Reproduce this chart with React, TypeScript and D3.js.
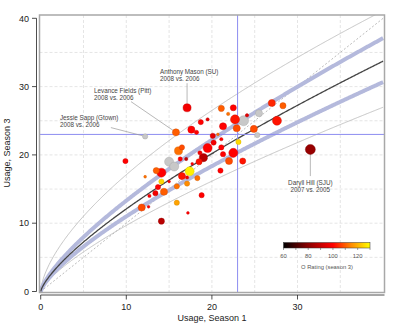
import React from "react";
import * as d3 from "d3";

// ---- data ----
const usageS1 = [17.1,15.8,12.2,31.5,18.7,19.5,17.6,18.2,16.1,16.5,19.5,19.0,18.6,18.5,17.0,15.0,15.6,9.9,14.1,13.5,17.4,16.5,14.1,15.0,18.3,17.1,15.9,17.1,13.7,14.4,13.4,12.7,15.9,11.8,12.6,14.1,17.2,18.8,12.2,16.3,17.7,21.1,22.5,21.9,27.0,28.3,25.5,24.1,22.7,23.7,27.6,21.3,22.9,24.9,20.1,20.7,25.3,20.2,21.1,23.1,21.1,21.3,22.5,22.0,23.6,21.0];
const usageS3 = [26.9,23.3,22.7,20.8,24.8,25.2,23.7,23.3,20.6,21.1,21.0,19.6,20.3,19.0,19.4,19.0,18.3,19.1,17.4,17.7,17.6,16.9,16.1,16.1,16.6,16.7,15.4,15.8,15.3,14.6,14.4,14.0,13.0,12.3,12.4,10.3,11.5,14.1,16.8,19.4,18.7,26.8,26.9,26.0,27.6,27.2,26.1,25.8,25.2,25.0,25.0,24.2,23.9,23.8,22.8,23.0,22.9,21.8,22.3,21.9,21.1,20.1,20.3,19.1,19.1,17.7];
const oRating: (number | null)[] = [98,110,null,82,100,95,100,100,112,108,100,88,98,102,90,null,null,100,100,110,128,102,125,100,112,98,112,115,100,110,98,100,118,108,100,88,100,100,112,100,100,110,100,112,104,110,null,95,102,null,102,100,108,108,96,112,null,98,100,125,100,100,100,108,102,100];
const pointSize = [4,3.5,2.5,5,2.5,1.5,3.5,2,4,2.5,4.5,4,2,3,1.5,4.5,4.5,2.5,4.5,3,4.5,3.5,2.5,1.2,2.5,1.5,2.5,2.5,2.5,3.5,2.5,1.5,2.5,3.5,1.2,3,1.2,2.5,1.2,2,1.2,3,3,1.5,3.5,3,3.5,1.5,4.5,5,4.5,3.5,3.5,3.5,2.5,1.2,2.5,2.5,1.5,2.5,2.5,2.5,4.5,3.5,3,2.5];

// fitted curves y = a * x^b  (outer upper, band upper, center, band lower, outer lower)
const curveA = [3.98, 2.42, 2.2, 2.0, 1.76];
const curveB = [0.633, 0.74, 0.74, 0.74, 0.74];

const xTicks = [0, 10, 20, 30];
const yTicks = [0, 10, 20, 30, 40];
const gridVals = [5, 10, 15, 20, 25, 30, 35];
const refX = 23;
const refY = 23;

const annotations = [
  { name: "Anthony Mason (SU)", years: "2008 vs. 2006", idx: 0, tx: 13.94, ty: 31.8, anchor: "start", lx: 17.1, ly: 30.5 },
  { name: "Levance Fields (Pitt)", years: "2008 vs. 2006", idx: 1, tx: 6.23, ty: 29.05, anchor: "start", lx: 10.55, ly: 27.8 },
  { name: "Jessie Sapp (Gtown)", years: "2008 vs. 2006", idx: 2, tx: 2.25, ty: 25.1, anchor: "start", lx: 8.2, ly: 24.0 },
  { name: "Daryll Hill (SJU)", years: "2007 vs. 2005", idx: 3, tx: 31.5, ty: 15.55, anchor: "middle", lx: 31.5, ly: 16.9 },
];

const legendTicks = [60, 80, 100, 120];
const legendDomain = [60, 130];

export default function App() {
  const W = 400, H = 326;
  const x = d3.scaleLinear().domain([0, 40]).range([40.7, 383.1]);
  const y = d3.scaleLinear().domain([0, 40]).range([291.5, 18.3]);
  const box = { l: 39.5, r: 384.5, t: 15, b: 292.5 };

  const color = d3.scaleLinear<string>()
    .domain([60, 80, 100, 115, 130])
    .range(["#000000", "#8b0000", "#ff0000", "#ff8c00", "#ffff00"])
    .interpolate(d3.interpolateRgb);
  const rScale = d3.scaleLinear().domain([1, 5]).range([1.2, 5]);

  const xs = d3.range(0, 40.01, 0.1);
  const lineGen = d3.line<number[]>().x(d => x(d[0])).y(d => y(d[1]));
  const curvePath = (i: number) => lineGen(xs.map(v => [v, curveA[i] * Math.pow(v, curveB[i])]))!;

  const pts = usageS1.map((u, i) => ({ u1: u, u3: usageS3[i], o: oRating[i], s: pointSize[i] }));
  const order = d3.range(pts.length).sort((a, b) => pts[b].s - pts[a].s);

  const lx = d3.scaleLinear().domain(legendDomain).range([283.5, 370]);
  const gradStops = d3.range(60, 131, 5);

  const font = "Liberation Sans, Arial, sans-serif";

  return (
    <svg width={W} height={H} style={{ position: "absolute", left: 0, top: 0, background: "#fff" }} fontFamily={font}>
      <defs>
        <clipPath id="plotclip">
          <rect x={box.l} y={box.t} width={box.r - box.l} height={box.b - box.t} />
        </clipPath>
        <linearGradient id="heat" x1="0" x2="1" y1="0" y2="0">
          {gradStops.map(v => (
            <stop key={v} offset={(v - 60) / 70} stopColor={color(v)} />
          ))}
        </linearGradient>
      </defs>

      {/* grid */}
      <g stroke="#dedede" strokeWidth={0.8} strokeDasharray="3,2">
        {gridVals.map(v => (
          <line key={"gx" + v} x1={x(v)} x2={x(v)} y1={box.t} y2={box.b} />
        ))}
        {gridVals.map(v => (
          <line key={"gy" + v} x1={box.l} x2={box.r} y1={y(v)} y2={y(v)} />
        ))}
      </g>

      <g clipPath="url(#plotclip)" fill="none">
        {/* y = x reference */}
        <line x1={x(0)} y1={y(0)} x2={x(40)} y2={y(40)} stroke="#aaaaaa" strokeWidth={0.8} strokeDasharray="2,2" />
        <path d={curvePath(0)} stroke="#b8b8b8" strokeWidth={0.8} />
        <path d={curvePath(4)} stroke="#b8b8b8" strokeWidth={0.8} />
        <path d={curvePath(1)} stroke="#b4b9dc" strokeWidth={4} />
        <path d={curvePath(3)} stroke="#b4b9dc" strokeWidth={4} />
        <path d={curvePath(2)} stroke="#444444" strokeWidth={1.3} />
        {/* reference cross */}
        <line x1={box.l} x2={box.r} y1={y(refY)} y2={y(refY)} stroke="#8c8cf0" strokeWidth={1} />
        <line x1={x(refX)} x2={x(refX)} y1={box.t} y2={box.b} stroke="#8c8cf0" strokeWidth={1} />
      </g>

      {/* annotation leaders */}
      <g stroke="#9a9a9a" strokeWidth={0.7}>
        {annotations.map((a, i) => {
          const p = pts[a.idx];
          return <line key={i} x1={x(a.lx)} y1={y(a.ly)} x2={x(p.u1)} y2={y(p.u3)} />;
        })}
      </g>

      {/* points */}
      <g clipPath="url(#plotclip)">
        {order.map(i => {
          const p = pts[i];
          const c = p.o == null ? "#c8c8c8" : color(p.o);
          return (
            <circle key={i} cx={x(p.u1)} cy={y(p.u3)} r={rScale(p.s)} fill={c}
              stroke={d3.color(c)!.darker(0.6).formatHex()} strokeWidth={0.4} />
          );
        })}
      </g>

      {/* annotation labels */}
      <g fontSize={6.3} fill="#444">
        {annotations.map((a, i) => (
          <text key={i} x={x(a.tx)} y={y(a.ty)} textAnchor={a.anchor}>
            <tspan x={x(a.tx)} dy={0}>{a.name}</tspan>
            <tspan x={x(a.tx)} dy={7}>{a.years}</tspan>
          </text>
        ))}
      </g>

      {/* box */}
      <rect x={box.l} y={box.t} width={box.r - box.l} height={box.b - box.t} fill="none" stroke="#a8a8a8" strokeWidth={1.5} />

      {/* axes */}
      <g stroke="#222" strokeWidth={0.8}>
        <line x1={36.5} x2={36.5} y1={y(0)} y2={y(40)} />
        {yTicks.map(v => <line key={v} x1={32} x2={36.5} y1={y(v)} y2={y(v)} />)}
        <line x1={x(0)} x2={box.r} y1={295} y2={295} />
        {xTicks.map(v => <line key={v} x1={x(v)} x2={x(v)} y1={295} y2={299.5} />)}
      </g>
      <g fontSize={9} fill="#222">
        {yTicks.map(v => (
          <text key={v} x={29} y={y(v) + 3.2} textAnchor="end">{v}</text>
        ))}
        {xTicks.map(v => (
          <text key={v} x={x(v)} y={310} textAnchor="middle">{v}</text>
        ))}
      </g>
      <text x={212} y={321} fontSize={9} textAnchor="middle" fill="#222">Usage, Season 1</text>
      <text transform="translate(10,153) rotate(-90)" fontSize={9} textAnchor="middle" fill="#222">Usage, Season 3</text>

      {/* color legend */}
      <rect x={lx(60)} y={242.5} width={lx(130) - lx(60)} height={5.5} fill="url(#heat)" stroke="#333" strokeWidth={0.5} />
      <g stroke="#444" strokeWidth={0.5}>
        {d3.range(60, 131, 10).map(v => <line key={v} x1={lx(v)} x2={lx(v)} y1={248} y2={250} />)}
      </g>
      <g fontSize={5.8} fill="#555" textAnchor="middle">
        {legendTicks.map(v => <text key={v} x={lx(v)} y={258}>{v}</text>)}
        <text x={327} y={268.5}>O Rating (season 3)</text>
      </g>
    </svg>
  );
}
